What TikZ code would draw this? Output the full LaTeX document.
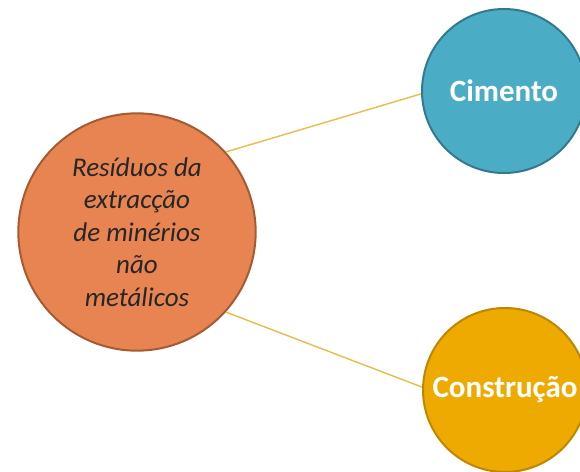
\documentclass[tikz,border=0pt]{standalone}
\usepackage{fontspec}
\setmainfont{Carlito}
\definecolor{orfill}{RGB}{232,132,82}
\definecolor{ordraw}{RGB}{165,90,50}
\definecolor{blfill}{RGB}{75,172,198}
\definecolor{bldraw}{RGB}{52,122,142}
\definecolor{gofill}{RGB}{238,170,0}
\definecolor{godraw}{RGB}{190,135,0}
\definecolor{linkcol}{RGB}{228,192,80}
\begin{document}
\begin{tikzpicture}[x=0.75pt,y=-0.75pt,
  bubble/.style={circle,line width=1.5pt,inner sep=0pt,align=center},
  mainbubble/.style={bubble,fill=orfill,draw=ordraw,minimum size=178pt,
    font=\fontsize{20.25}{24.4}\selectfont\itshape,text=black!85},
  sidebubble/.style={bubble,minimum size=123pt,
    font=\fontsize{23.25}{28}\selectfont\bfseries,text=white},
  link/.style={draw=linkcol,line width=1.1pt}]
\useasboundingbox (0,0) rectangle (580,471);
\node[mainbubble] (res) at (137,232) {Resíduos da\\extracção\\de minérios\\não\\metálicos};
\node[sidebubble,fill=blfill,draw=bldraw] (cim) at (504,91) {Cimento};
\node[sidebubble,fill=gofill,draw=godraw] (con) at (505,390) {Construção};
\draw[link] (res.42) -- (cim.182);
\draw[link] (res.-42) -- (con.178.6);
\end{tikzpicture}
\end{document}
